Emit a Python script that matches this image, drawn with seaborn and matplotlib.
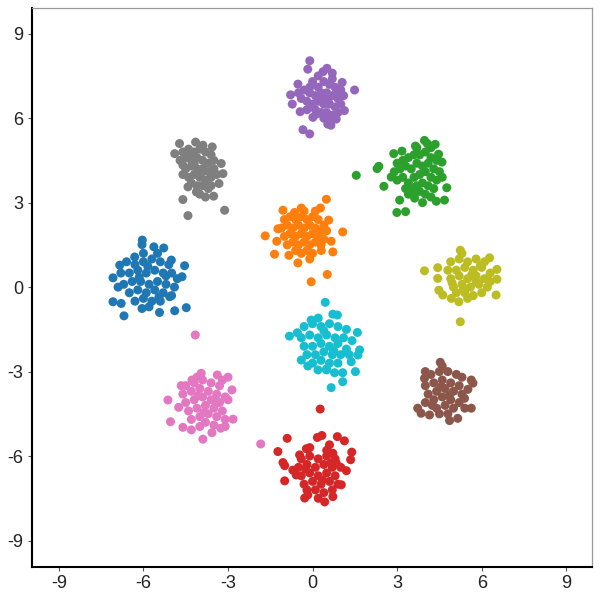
import pandas as pd
import seaborn as sns
import matplotlib.pyplot as plt

# points, one list per cluster (x, y)
blue = [(-6.04, 1.67), (-6.05, 1.51), (-5.63, 1.43), (-5.28, 1.39), (-4.54, 0.76), (-4.63, 0.37),
        (-7.08, 0.33), (-6.84, 0.78), (-7.08, -0.52), (-6.79, -0.58), (-6.69, -1.02), (-6.05, -0.76),
        (-5.43, -0.9), (-4.89, -0.84), (-4.48, -0.73), (-5.07, -0.34), (-5.01, 0.96), (-6.31, 1.07),
        (-6.6, 0.9), (-6.3, 0.8), (-6.0, 0.9), (-5.7, 1.0), (-5.4, 0.9), (-5.1, 0.8), (-6.8, 0.5),
        (-6.5, 0.5), (-6.2, 0.6), (-5.9, 0.5), (-5.6, 0.6), (-5.3, 0.5), (-5.0, 0.5), (-4.8, 0.3),
        (-6.7, 0.1), (-6.4, 0.2), (-6.1, 0.2), (-5.8, 0.1), (-5.5, 0.2), (-5.2, 0.1), (-4.9, 0.0),
        (-6.5, -0.2), (-6.2, -0.1), (-5.9, -0.2), (-5.6, -0.1), (-5.3, -0.2), (-5.0, -0.3), (-6.3, -0.5),
        (-6.0, -0.4), (-5.7, -0.5), (-5.4, -0.5), (-5.8, -0.7), (-5.5, 1.2), (-6.9, 0.0), (-6.0, 1.2),
        (-5.2, 0.4), (-6.15, 0.35), (-5.45, -0.35), (-5.85, 0.75)]
orange = [(0.49, 3.12), (0.28, 2.81), (-1.05, 2.73), (-0.4, 2.81), (-0.64, 2.65), (-1.68, 1.82),
          (1.07, 1.96), (0.57, 2.38), (0.66, 1.63), (0.72, 1.25), (0.31, 1.3), (-1.35, 1.17),
          (-0.84, 1.13), (-0.52, 0.86), (0.52, 0.45), (-0.05, 0.19), (-1.23, 2.07), (-1.27, 1.63),
          (-1.0, 2.4), (-0.8, 2.5), (-0.6, 2.4), (-0.4, 2.5), (-0.2, 2.4), (0.0, 2.5), (0.2, 2.4),
          (0.4, 2.2), (-1.1, 2.1), (-0.9, 2.2), (-0.7, 2.1), (-0.5, 2.2), (-0.3, 2.1), (-0.1, 2.2),
          (0.1, 2.1), (0.3, 2.0), (0.5, 2.0), (-1.0, 1.8), (-0.8, 1.9), (-0.6, 1.8), (-0.4, 1.9),
          (-0.2, 1.8), (0.0, 1.9), (0.2, 1.8), (0.4, 1.7), (-0.9, 1.5), (-0.7, 1.6), (-0.5, 1.5),
          (-0.3, 1.6), (-0.1, 1.5), (0.1, 1.6), (0.3, 1.5), (-0.6, 1.3), (-0.4, 1.2), (-0.2, 1.3),
          (0.0, 1.2), (-0.1, 1.0), (-0.3, 2.7), (0.1, 2.7)]
green = [(1.55, 3.97), (2.29, 4.21), (2.35, 4.29), (2.53, 3.58), (2.88, 4.74), (3.17, 4.83),
         (3.65, 5.01), (3.97, 5.21), (4.07, 5.1), (4.35, 5.07), (4.47, 4.72), (4.59, 4.44),
         (4.76, 3.53), (4.68, 3.09), (4.39, 3.05), (3.09, 3.09), (2.99, 2.65), (3.3, 2.68),
         (2.79, 3.91), (3.62, 3.16), (3.0, 4.4), (3.2, 4.5), (3.4, 4.6), (3.6, 4.7), (3.8, 4.7),
         (4.0, 4.8), (4.2, 4.6), (4.4, 4.5), (2.9, 4.1), (3.1, 4.2), (3.3, 4.3), (3.5, 4.2),
         (3.7, 4.4), (3.9, 4.3), (4.1, 4.4), (4.3, 4.2), (4.5, 4.1), (3.0, 3.8), (3.2, 3.9),
         (3.4, 3.7), (3.6, 3.9), (3.8, 4.0), (4.0, 4.1), (4.2, 3.9), (4.4, 3.8), (4.6, 3.9),
         (3.3, 3.5), (3.5, 3.5), (3.7, 3.6), (3.9, 3.7), (4.1, 3.6), (4.3, 3.5), (3.4, 3.3),
         (3.6, 3.3), (3.8, 3.4), (4.0, 3.3), (4.2, 3.2), (3.9, 3.0), (3.7, 4.95), (4.2, 4.95)]
red = [(0.27, -4.33), (-0.9, -5.37), (-1.23, -5.84), (-1.05, -6.23), (-0.99, -6.34), (-0.99, -6.88),
       (0.17, -5.34), (0.33, -5.27), (0.88, -5.31), (1.13, -5.46), (1.39, -5.86), (1.35, -6.13),
       (1.2, -6.52), (-0.22, -5.74), (0.6, -5.6), (0.72, -5.9), (0.84, -6.25), (-0.46, -5.96),
       (-0.28, -7.49), (-0.17, -7.38), (0.43, -7.63), (0.72, -7.44), (-0.58, -6.67), (1.02, -7.02),
       (-0.4, -6.1), (-0.1, -6.0), (0.2, -6.1), (0.5, -6.0), (0.8, -6.1), (-0.5, -6.4), (-0.2, -6.3),
       (0.1, -6.4), (0.4, -6.3), (0.7, -6.4), (1.0, -6.4), (-0.4, -6.7), (-0.1, -6.6), (0.2, -6.7),
       (0.5, -6.6), (0.8, -6.7), (-0.3, -7.0), (0.0, -6.9), (0.3, -7.0), (0.6, -6.9), (0.9, -7.0),
       (-0.2, -7.2), (0.1, -7.2), (0.4, -7.3), (0.7, -7.2), (0.2, -7.5), (0.5, -5.8), (-0.1, -5.7),
       (-0.7, -6.5), (0.35, -6.85), (-0.25, -6.45), (0.65, -6.25)]
purple = [(-0.1, 8.04), (-0.17, 7.74), (0.37, 7.65), (0.51, 7.77), (0.7, 7.6), (-0.52, 7.21),
          (-0.78, 6.83), (-0.72, 6.5), (-0.44, 6.23), (1.49, 7.0), (1.05, 7.27), (1.13, 6.27),
          (-0.34, 5.59), (-0.1, 5.44), (0.54, 5.79), (0.84, 5.97), (0.01, 6.03), (0.0, 7.3),
          (0.2, 7.1), (0.4, 7.3), (0.6, 7.2), (0.8, 7.1), (1.0, 7.0), (-0.3, 7.0), (-0.1, 6.9),
          (0.1, 6.8), (0.3, 6.9), (0.5, 6.9), (0.7, 6.8), (0.9, 6.7), (-0.4, 6.7), (-0.2, 6.6),
          (0.0, 6.5), (0.2, 6.6), (0.4, 6.5), (0.6, 6.5), (0.8, 6.4), (1.0, 6.5), (-0.2, 6.3),
          (0.1, 6.3), (0.3, 6.2), (0.5, 6.2), (0.7, 6.1), (0.9, 6.2), (0.4, 6.0), (0.6, 5.9),
          (0.2, 7.5), (-0.5, 6.9), (0.7, 7.4), (1.1, 6.8), (0.3, 6.7), (-0.1, 7.1), (0.55, 6.65),
          (0.85, 6.9), (0.15, 6.15), (0.65, 5.75)]
brown = [(4.53, -2.67), (3.97, -3.24), (5.63, -3.3), (5.69, -3.41), (5.51, -3.63), (3.73, -4.3),
         (3.85, -4.48), (4.15, -4.54), (4.86, -4.74), (5.15, -4.66), (5.63, -4.3), (5.39, -3.95),
         (4.2, -3.1), (4.5, -3.0), (4.8, -3.0), (5.1, -3.1), (5.3, -3.2), (4.0, -3.5), (4.3, -3.4),
         (4.6, -3.3), (4.9, -3.4), (5.2, -3.5), (4.1, -3.8), (4.4, -3.7), (4.7, -3.6), (5.0, -3.7),
         (5.3, -3.8), (4.0, -4.1), (4.3, -4.0), (4.6, -3.9), (4.9, -4.0), (5.2, -4.1), (4.4, -4.3),
         (4.7, -4.2), (5.0, -4.3), (5.4, -4.3), (4.5, -4.5), (4.8, -4.5), (4.6, -2.8), (4.0, -3.0),
         (4.55, -3.55), (4.85, -3.85), (4.25, -4.2)]
pink = [(-4.16, -1.7), (-1.84, -5.57), (-5.13, -4.01), (-5.04, -4.78), (-4.6, -4.98), (-4.3, -5.07),
        (-3.89, -5.4), (-3.57, -5.17), (-3.26, -5.01), (-3.1, -4.95), (-2.82, -4.69), (-2.86, -3.65),
        (-3.0, -3.2), (-3.38, -3.12), (-3.95, -3.06), (-4.28, -3.3), (-4.66, -3.5), (-4.75, -4.27),
        (-4.5, -3.5), (-4.2, -3.4), (-3.9, -3.3), (-3.6, -3.4), (-3.3, -3.5), (-4.6, -3.8),
        (-4.3, -3.7), (-4.0, -3.6), (-3.7, -3.7), (-3.4, -3.8), (-3.1, -3.9), (-4.5, -4.1),
        (-4.2, -4.0), (-3.9, -3.9), (-3.6, -4.0), (-3.3, -4.1), (-3.0, -4.0), (-4.4, -4.4),
        (-4.1, -4.3), (-3.8, -4.2), (-3.5, -4.3), (-3.2, -4.4), (-4.3, -4.7), (-4.0, -4.6),
        (-3.7, -4.5), (-3.4, -4.6), (-3.1, -4.7), (-3.8, -4.8), (-3.5, -4.9), (-4.1, -3.2),
        (-4.0, -4.95), (-3.2, -3.3), (-3.85, -4.45), (-4.05, -3.85), (-3.45, -4.05)]
gray = [(-4.6, 3.11), (-4.42, 2.54), (-3.12, 2.73), (-3.51, 3.23), (-3.32, 3.68), (-4.72, 5.1),
        (-4.15, 5.15), (-3.89, 5.04), (-3.56, 4.98), (-4.89, 4.74), (-3.24, 4.39), (-3.18, 4.03),
        (-4.42, 3.56), (-4.12, 3.38), (-4.6, 4.33), (-4.6, 4.8), (-4.4, 4.9), (-4.2, 4.8),
        (-4.0, 4.9), (-3.8, 4.8), (-3.6, 4.7), (-4.7, 4.5), (-4.5, 4.6), (-4.3, 4.5), (-4.1, 4.6),
        (-3.9, 4.5), (-3.7, 4.4), (-3.5, 4.5), (-4.5, 4.2), (-4.3, 4.3), (-4.1, 4.2), (-3.9, 4.2),
        (-3.7, 4.1), (-3.5, 4.2), (-3.4, 4.0), (-4.4, 3.9), (-4.2, 4.0), (-4.0, 3.9), (-3.8, 3.8),
        (-3.6, 3.9), (-4.3, 3.7), (-4.1, 3.6), (-3.9, 3.6), (-3.7, 3.5), (-4.0, 3.3), (-3.8, 3.2),
        (-4.2, 4.4), (-3.6, 3.6), (-4.6, 4.0), (-3.95, 4.05), (-4.35, 4.65)]
olive = [(5.24, 1.31), (3.97, 0.58), (4.44, 0.69), (4.44, 0.31), (4.48, -0.11), (4.62, -0.28),
         (5.24, -1.23), (6.54, 0.63), (6.54, 0.28), (6.51, -0.28), (6.28, 1.04), (5.19, -0.52),
         (4.92, -0.4), (4.9, 0.9), (5.2, 1.0), (5.5, 0.9), (5.8, 1.0), (6.1, 0.9), (4.8, 0.6),
         (5.1, 0.6), (5.4, 0.7), (5.7, 0.6), (6.0, 0.7), (6.3, 0.5), (4.9, 0.3), (5.2, 0.4),
         (5.5, 0.3), (5.8, 0.4), (6.1, 0.3), (5.0, 0.0), (5.3, 0.1), (5.6, 0.0), (5.9, 0.1),
         (6.2, 0.0), (5.1, -0.2), (5.4, -0.2), (5.7, -0.3), (6.0, -0.2), (5.5, -0.4), (5.3, 1.2),
         (5.8, 0.2), (4.95, 0.15), (6.3, 0.2), (5.65, 0.45), (5.35, -0.05), (5.95, 0.75)]
cyan = [(0.45, -0.54), (0.72, -0.96), (0.88, -0.99), (-0.05, -1.17), (-0.82, -1.74), (-0.54, -1.62),
        (1.59, -1.61), (1.67, -2.23), (1.61, -2.41), (1.52, -3.0), (1.07, -3.04), (1.07, -3.36),
        (0.66, -3.57), (0.78, -3.04), (0.49, -2.94), (0.19, -2.94), (-0.4, -2.59), (-0.17, -2.8),
        (1.37, -2.65), (-0.3, -1.4), (0.0, -1.3), (0.3, -1.4), (0.6, -1.3), (0.9, -1.4), (1.2, -1.5),
        (-0.4, -1.8), (-0.1, -1.7), (0.2, -1.8), (0.5, -1.7), (0.8, -1.8), (1.1, -1.8), (1.4, -1.9),
        (-0.3, -2.1), (0.0, -2.1), (0.3, -2.0), (0.6, -2.1), (0.9, -2.0), (1.2, -2.2), (-0.2, -2.4),
        (0.1, -2.4), (0.4, -2.3), (0.7, -2.4), (1.0, -2.4), (1.3, -2.4), (0.0, -2.7), (0.3, -2.6),
        (0.6, -2.7), (0.9, -2.7), (0.5, -2.9), (0.2, -1.1), (0.4, -1.55), (0.75, -2.25)]

clusters = [blue, orange, green, red, purple, brown, pink, gray, olive, cyan]
ticks = [-9, -6, -3, 0, 3, 6, 9]

rows = []
for k, pts in enumerate(clusters):
    for x, y in pts:
        rows.append({'x': x, 'y': y, 'cluster': k})
df = pd.DataFrame(rows)

sns.set_style('white')
plt.rcParams['font.family'] = ['Liberation Sans', 'DejaVu Sans']
plt.rcParams['axes.unicode_minus'] = False

fig = plt.figure(figsize=(6, 6), dpi=100)
ax = fig.add_axes([0.053, 0.055, 0.934, 0.932])
sns.scatterplot(data=df, x='x', y='y', hue='cluster', palette='tab10',
                s=42, linewidth=0, legend=False, ax=ax)

ax.set_xlim(-9.96, 9.92)
ax.set_ylim(-9.94, 9.92)
ax.set_xticks(ticks)
ax.set_yticks(ticks)
ax.set_xlabel('')
ax.set_ylabel('')
ax.tick_params(axis='both', which='major', direction='out', length=3, width=0.8,
               color='#555555', labelsize=13, labelcolor='#222222', pad=3,
               bottom=True, left=True)
for side in ['left', 'bottom']:
    ax.spines[side].set_color('black')
    ax.spines[side].set_linewidth(1.5)
for side in ['top', 'right']:
    ax.spines[side].set_color('#999999')
    ax.spines[side].set_linewidth(0.9)

plt.savefig('out.png', dpi=100)
